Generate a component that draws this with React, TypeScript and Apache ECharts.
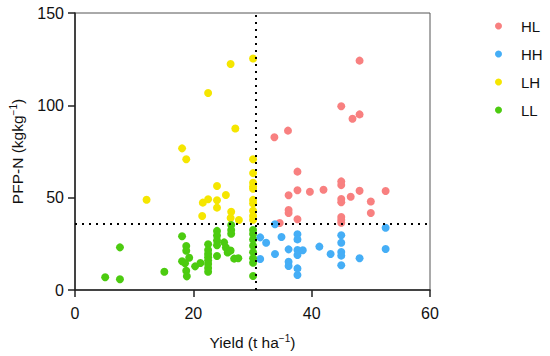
import React, { useEffect, useRef } from "react";
import * as echarts from "echarts";

const seriesNames = ["HL", "HH", "LH", "LL"];
const colors = ["#F88080", "#45AEF6", "#F5E600", "#4CCB10"];

const hlData: number[][] = [
  [48.1, 124.2], [45.0, 99.5], [46.9, 92.7], [48.1, 95.1], [33.7, 82.7], [36.0, 86.3],
  [37.6, 64.1], [36.1, 51.3], [37.6, 54.0], [39.7, 53.2], [42.0, 54.3], [36.1, 43.3],
  [36.1, 41.7], [37.6, 38.3], [34.6, 36.3], [45.0, 58.8], [45.0, 56.8], [45.0, 49.3],
  [45.0, 47.5], [45.0, 39.5], [45.0, 37.9], [45.0, 36.4], [46.6, 50.5], [48.1, 53.7],
  [50.0, 47.9], [50.0, 41.7], [52.5, 53.6],
];

const hhData: number[][] = [
  [33.8, 35.6], [31.3, 28.5], [32.3, 25.6], [31.3, 16.8], [33.8, 19.5], [34.9, 28.7],
  [36.1, 22.0], [36.1, 15.3], [36.1, 13.0], [37.6, 30.2], [37.6, 27.4], [37.6, 21.7],
  [37.6, 19.0], [38.5, 21.5], [37.6, 11.7], [37.6, 8.1], [41.3, 23.5], [43.2, 19.5],
  [45.0, 29.6], [45.0, 25.6], [45.0, 20.6], [45.0, 18.6], [45.0, 13.4], [48.1, 17.2],
  [52.5, 33.7], [52.5, 22.2],
];

const lhData: number[][] = [
  [30.1, 125.4], [26.3, 122.4], [22.5, 106.7], [27.1, 87.5], [18.1, 76.7], [18.8, 70.8],
  [12.1, 48.9], [24.0, 56.3], [25.5, 51.4], [21.6, 47.3], [22.5, 49.1], [24.0, 48.6],
  [24.0, 44.6], [21.5, 40.1], [26.4, 42.4], [26.3, 39.0], [27.7, 37.9], [30.1, 70.8],
  [30.1, 63.3], [30.1, 58.1], [30.1, 56.0], [30.1, 54.8], [30.1, 48.8], [30.1, 46.9],
  [30.1, 42.9], [30.1, 40.1], [30.1, 38.0],
];

const llData: number[][] = [
  [5.1, 6.9], [7.6, 5.8], [7.6, 23.1], [15.1, 9.9], [18.1, 29.1], [18.8, 23.8],
  [18.8, 21.3], [19.3, 17.5], [18.1, 15.6], [18.6, 14.5], [18.8, 10.4], [18.9, 7.4],
  [20.3, 12.8], [21.2, 14.6], [22.5, 24.8], [22.5, 21.7], [22.5, 19.6], [22.5, 17.8],
  [22.5, 16.0], [22.5, 14.1], [22.5, 11.9], [22.5, 9.9], [24.0, 32.0], [24.0, 29.5],
  [24.0, 26.8], [24.0, 24.2], [24.0, 18.4], [25.2, 25.8], [25.5, 23.0], [25.8, 20.3],
  [26.4, 35.2], [26.4, 32.5], [26.4, 30.5], [26.3, 21.4], [26.9, 17.0], [27.6, 17.2],
  [30.1, 32.5], [30.1, 30.3], [30.1, 27.3], [30.1, 24.0], [30.1, 20.5], [30.1, 17.2],
  [30.1, 14.8], [30.1, 7.6],
];

const allData = [hlData, hhData, lhData, llData];

const yieldThreshold = 30.5;
const pfpThreshold = 35.7;

const xTicks = { min: 0, max: 60, interval: 20 };
const yTicks = { min: 0, max: 150, interval: 50 };

const FONT = "'Liberation Sans', Arial, sans-serif";

export default function App() {
  const ref = useRef<HTMLDivElement>(null);

  useEffect(() => {
    if (!ref.current) return;
    document.body.style.margin = "0";
    const chart = echarts.init(ref.current, null, { renderer: "svg" });

    const series: any[] = seriesNames.map((name, i) => ({
      name,
      type: "scatter",
      data: allData[i],
      symbol: "circle",
      symbolSize: 8,
      itemStyle: { color: colors[i], opacity: 1 },
      z: 3,
    }));

    series.push({
      name: "thresholds",
      type: "scatter",
      data: [],
      silent: true,
      markLine: {
        silent: true,
        symbol: "none",
        animation: false,
        label: { show: false },
        lineStyle: { color: "#000", width: 2, type: [2, 5] },
        data: [{ yAxis: pfpThreshold }, { xAxis: yieldThreshold }],
      },
    });

    chart.setOption({
      animation: false,
      backgroundColor: "#fff",
      grid: {
        left: 73,
        right: 120,
        top: 13,
        bottom: 66,
        show: true,
        borderColor: "#555",
        borderWidth: 1,
        backgroundColor: "transparent",
      },
      legend: {
        data: seriesNames,
        orient: "vertical",
        left: 490,
        top: 13,
        icon: "circle",
        itemWidth: 7,
        itemHeight: 7,
        itemGap: 12,
        textStyle: {
          fontFamily: FONT,
          fontSize: 15,
          color: "#111",
          lineHeight: 16,
          padding: [0, 0, 0, 14],
        },
      },
      xAxis: {
        type: "value",
        min: xTicks.min,
        max: xTicks.max,
        interval: xTicks.interval,
        name: "{a|Yield (t ha}{s|−1}{a|)}",
        nameLocation: "middle",
        nameGap: 43,
        nameTextStyle: {
          rich: {
            a: { fontFamily: FONT, fontSize: 15.5, color: "#111", lineHeight: 18 },
            s: { fontFamily: FONT, fontSize: 10, color: "#111", verticalAlign: "top", lineHeight: 12 },
          },
        },
        splitLine: { show: false },
        axisLine: { show: true, onZero: false, lineStyle: { color: "#222", width: 1.5 } },
        axisTick: { show: true, length: 7, lineStyle: { color: "#222", width: 1.5 } },
        axisLabel: { fontFamily: FONT, fontSize: 16, color: "#111", margin: 15 },
      },
      yAxis: {
        type: "value",
        min: yTicks.min,
        max: yTicks.max,
        interval: yTicks.interval,
        name: "{a|PFP-N (kgkg}{s|−1}{a|)}",
        nameLocation: "middle",
        nameGap: 49,
        nameTextStyle: {
          rich: {
            a: { fontFamily: FONT, fontSize: 15.5, color: "#111", lineHeight: 18 },
            s: { fontFamily: FONT, fontSize: 10, color: "#111", verticalAlign: "top", lineHeight: 12 },
          },
        },
        splitLine: { show: false },
        axisLine: { show: true, onZero: false, lineStyle: { color: "#222", width: 1.5 } },
        axisTick: { show: true, length: 7, lineStyle: { color: "#222", width: 1.5 } },
        axisLabel: { fontFamily: FONT, fontSize: 16, color: "#111", margin: 11 },
      },
      series,
    });

    return () => chart.dispose();
  }, []);

  return <div ref={ref} style={{ width: 550, height: 356 }} />;
}
